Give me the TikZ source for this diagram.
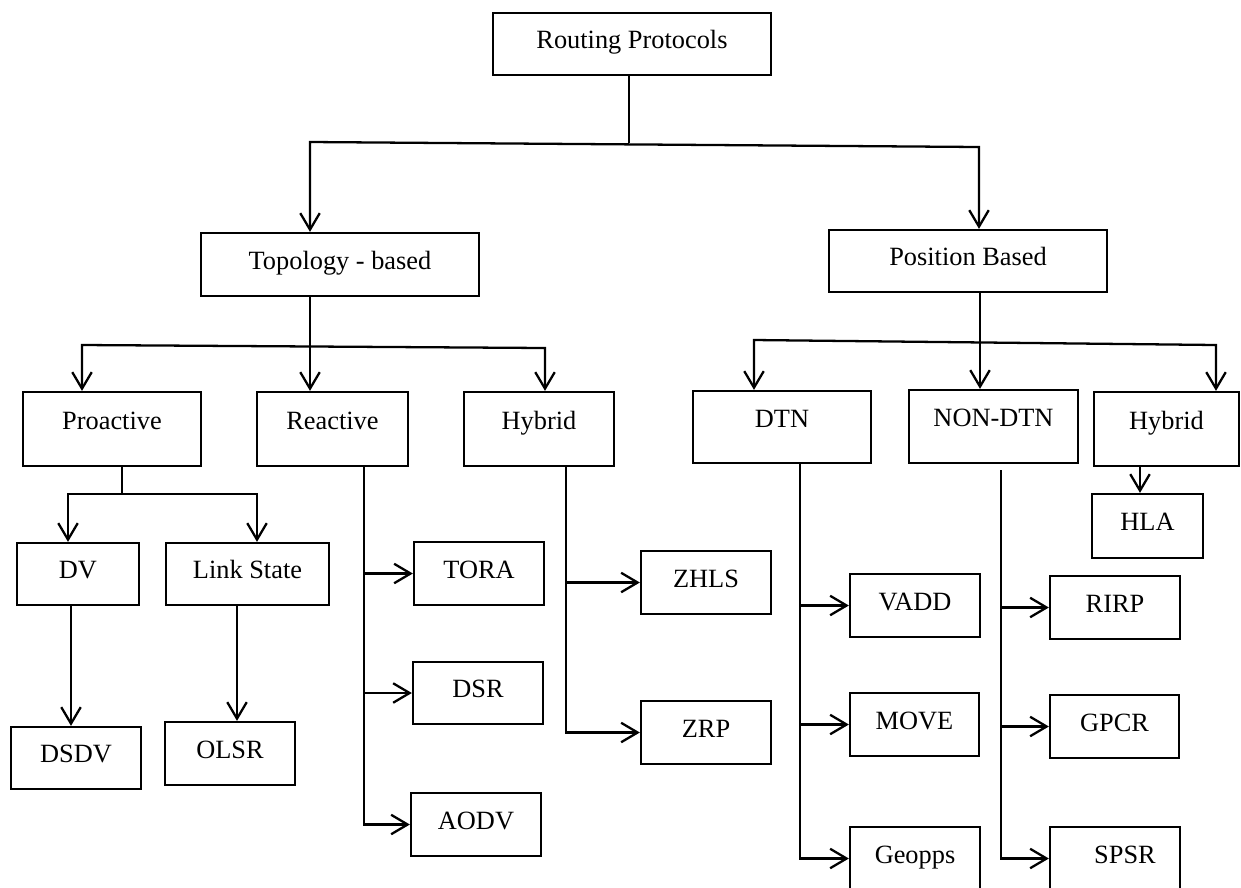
\documentclass[tikz,border=0pt]{standalone}
\usepackage{fontspec}
\setmainfont{Liberation Serif}
\usepackage{tikz}
\usetikzlibrary{arrows.meta}
\tikzset{
  rbox/.style={draw,line width=1.3pt,align=center,inner sep=2pt,
    text height=0.36cm,text depth=0.18cm},
  rtall/.style={rbox,text depth=0.36cm},
  wh/.style 2 args={minimum width=#1*0.02cm,minimum height=#2*0.02cm},
  rline/.style={line width=1.3pt},
  rflow/.style={-{Straight Barb[length=3.3mm,width=3.9mm]},line width=1.3pt},
  rboth/.style={{Straight Barb[length=3.3mm,width=3.9mm]}-{Straight Barb[length=3.3mm,width=3.9mm]},line width=1.3pt},
}

\begin{document}
\begin{tikzpicture}[x=0.02cm,y=-0.02cm,font=\fontsize{15}{18}\selectfont]
\useasboundingbox (0,0) rectangle (1241,887);
\clip (0,0) rectangle (1241,887);
% boxes
\node[rbox,wh={278}{62}] (rp) at (632,44) {Routing Protocols};
\node[rbox,wh={278}{63}] (topo) at (340,264.5) {Topology - based};
\node[rbox,wh={278}{62}] (pos) at (968,261) {Position Based};
\node[rtall,wh={178}{74}] (pro) at (112,429) {Proactive};
\node[rtall,wh={151}{74}] (rea) at (332.5,429) {Reactive};
\node[rtall,wh={150}{74}] (hybt) at (539,429) {Hybrid};
\node[rtall,wh={178}{72}] (dtn) at (782,427) {DTN};
\node[rtall,wh={169}{73}] (ndtn) at (993.5,426.5) {NON-DTN};
\node[rtall,wh={145}{74}] (hybp) at (1166.5,429) {Hybrid};
\node[rbox,wh={111}{64}] (hla) at (1147.5,526) {HLA};
\node[rbox,wh={122}{62}] (dv) at (78,574) {DV};
\node[rbox,wh={163}{62}] (ls) at (247.5,574) {Link State};
\node[rbox,wh={130}{63}] (tora) at (479,573.5) {TORA};
\node[rbox,wh={130}{63}] (zhls) at (706,582.5) {ZHLS};
\node[rbox,wh={130}{63}] (vadd) at (915,605.5) {VADD};
\node[rbox,wh={130}{63}] (rirp) at (1115,607.5) {RIRP};
\node[rbox,wh={130}{62}] (dsr) at (478,693) {DSR};
\node[rbox,wh={130}{63}] (zrp) at (706,732.5) {ZRP};
\node[rbox,wh={129}{63}] (move) at (914.5,724.5) {MOVE};
\node[rbox,wh={129}{63}] (gpcr) at (1114.5,726.5) {GPCR};
\node[rbox,wh={130}{62}] (dsdv) at (76,758) {DSDV};
\node[rbox,wh={130}{63}] (olsr) at (230,753.5) {OLSR};
\node[rbox,wh={130}{63}] (aodv) at (476,824.5) {AODV};
\node[rbox,wh={130}{63}] (geo) at (915,858.5) {Geopps};
\node[rbox,wh={130}{63}] (spsr) at (1115,858.5) {\hspace*{0.4cm}SPSR};
% first level
\coordinate (a0) at (629,143);
\coordinate (a1) at (310,142);
\coordinate (a2) at (979,147);
\draw[rline] (a0 |- rp.south) -- (a0);
\draw[rboth] (a1 |- topo.north) -- (a1) -- (a2) -- (a2 |- pos.north);
% topology based
\coordinate (b0) at (310,345);
\coordinate (b1) at (82,345);
\coordinate (b2) at (545,348);
\draw[rline] (topo.south -| b0) -- (b0);
\draw[rboth] (b1 |- pro.north) -- (b1) -- (b2) -- (b2 |- hybt.north);
\draw[rflow] (b0) -- (b0 |- rea.north);
% position based
\coordinate (c0) at (980,342.5);
\coordinate (c1) at (754,340);
\coordinate (c2) at (1216,345);
\draw[rline] (pos.south -| c0) -- (c0);
\draw[rboth] (c1 |- dtn.north) -- (c1) -- (c2) -- (c2 |- hybp.north);
\draw[rflow] (c0) -- (c0 |- ndtn.north);
% proactive
\coordinate (d0) at (122,494);
\coordinate (d1) at (68,494);
\coordinate (d2) at (257,494);
\draw[rline] (pro.south -| d0) -- (d0);
\draw[rboth] (d1 |- dv.north) -- (d1) -- (d2) -- (d2 |- ls.north);
\coordinate (e1) at (71,0);
\coordinate (e2) at (237,0);
\draw[rflow] (dv.south -| e1) -- (dsdv.north -| e1);
\draw[rflow] (ls.south -| e2) -- (olsr.north -| e2);
% trunks
\coordinate (f1) at (364,0);
\coordinate (f2) at (566,0);
\coordinate (f3) at (800,0);
\coordinate (f4) at (1001,470);
\coordinate (f5) at (1140,0);
\draw[rflow] (rea.south -| f1) |- (aodv.west);
\foreach \n in {tora,dsr} \draw[rflow] (f1 |- \n.west) -- (\n.west);
\draw[rflow] (hybt.south -| f2) |- (zrp.west);
\draw[rflow] (f2 |- zhls.west) -- (zhls.west);
\draw[rflow] (dtn.south -| f3) |- (geo.west);
\foreach \n in {vadd,move} \draw[rflow] (f3 |- \n.west) -- (\n.west);
\draw[rflow] (f4) |- (spsr.west);
\foreach \n in {rirp,gpcr} \draw[rflow] (f4 |- \n.west) -- (\n.west);
\draw[rflow] (hybp.south -| f5) -- (hla.north -| f5);
\end{tikzpicture}
\end{document}
